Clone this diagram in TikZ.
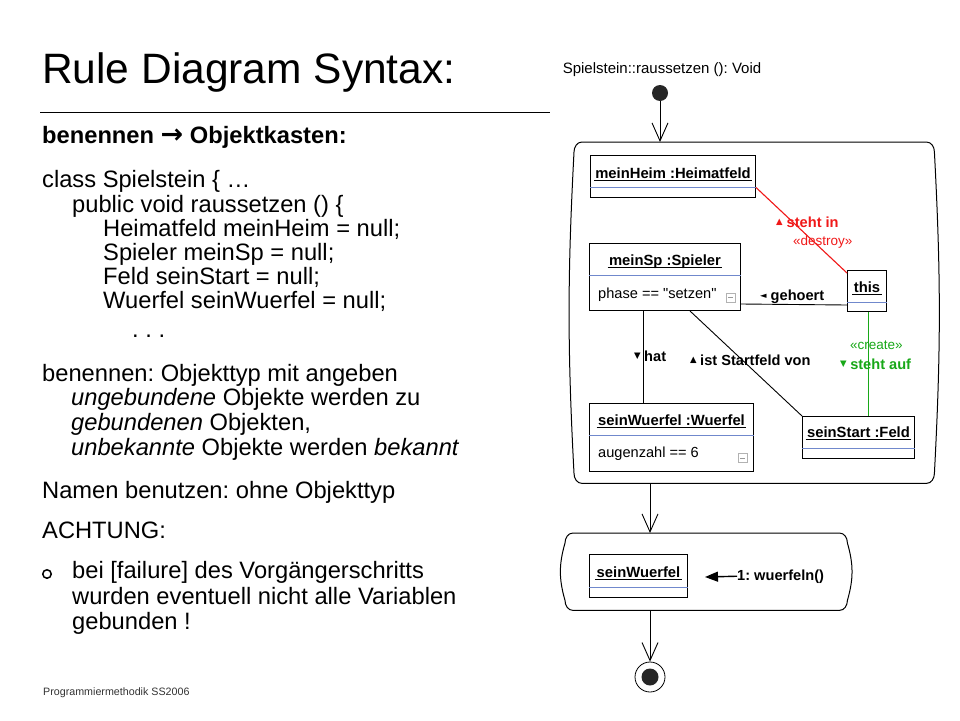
\documentclass[tikz,border=0pt]{standalone}
\usepackage{fontspec}
\setmainfont{Liberation Sans}
\newfontfamily\dgfont{Liberation Sans}[Ligatures=TeXOff]
\newfontfamily\symfont{DejaVu Sans}
\usetikzlibrary{arrows.meta,calc}
\definecolor{SepBlue}{HTML}{7088CC}
\definecolor{LinkRed}{HTML}{F01818}
\definecolor{LinkGreen}{HTML}{18A818}
\frenchspacing

% underlined object name
\newcommand{\uname}[1]{\sbox0{#1}\leavevmode\rlap{\hspace{-1.5pt}\rule[-3.2pt]{\dimexpr\wd0+3pt\relax}{1.3pt}}\usebox0}
% reading direction marks
\newcommand{\uptri}{\raisebox{2.5pt}{\symfont\fontsize{8.5}{8.5}\selectfont ▲}}
\newcommand{\downtri}{\raisebox{2.5pt}{\symfont\fontsize{8.5}{8.5}\selectfont ▼}}
\newcommand{\lefttri}{\raisebox{2pt}{\symfont\fontsize{8.5}{8.5}\selectfont ◄}}
% activity outline round a node
\newcommand{\actpath}[2]{\draw[actline] ([xshift=8pt]#1.north west) -- ([xshift=-8pt]#1.north east)
  to[out=0,in=90] ([yshift=-10pt]#1.north east) to[bend left=#2] ([yshift=10pt]#1.south east)
  to[out=-90,in=0] ([xshift=-8pt]#1.south east) -- ([xshift=8pt]#1.south west)
  to[out=180,in=-90] ([yshift=10pt]#1.south west) to[bend left=#2] ([yshift=-10pt]#1.north west)
  to[out=90,in=180] ([xshift=8pt]#1.north west) -- cycle;}

\begin{document}
\begin{tikzpicture}[x=1pt, y=-1pt,
  body/.style={anchor=base west, inner sep=0pt, font=\fontsize{23.7}{24}\selectfont},
  objbox/.style={draw, line width=1pt, anchor=north west, inner sep=0pt},
  objlabel/.style={anchor=base, inner sep=0pt, font=\dgfont\fontsize{14.8}{15}\selectfont\bfseries},
  attr/.style={anchor=base west, inner sep=0pt, font=\dgfont\fontsize{14.6}{15}\selectfont},
  sepline/.style={draw=SepBlue, line width=1pt},
  minusbox/.style={draw=gray!60, line width=0.7pt, minimum size=9pt, inner sep=0pt,
    path picture={\draw[gray!80, line width=0.8pt] ([xshift=2pt]path picture bounding box.west) -- ([xshift=-2pt]path picture bounding box.east);}},
  link/.style={line width=0.9pt},
  lbl/.style={anchor=base west, inner sep=0pt, font=\dgfont\fontsize{14.6}{15}\selectfont\bfseries},
  stereo/.style={anchor=base west, inner sep=0pt, font=\dgfont\fontsize{13.5}{14}\selectfont},
  flow/.style={-{Straight Barb[length=18pt,width=16pt]}, line width=0.9pt},
  msgarrow/.style={-{Triangle[length=13pt,width=10pt]}, line width=1.4pt},
  actnode/.style={draw=none, anchor=north west, inner sep=0pt},
  actline/.style={line width=1pt}
]
\useasboundingbox (0,0) rectangle (960,720);
\fill[white] (0,0) rectangle (960,720);

% left column
\node[anchor=base west, inner sep=0pt, font=\fontsize{42.5}{44}\selectfont] (title) at (42,83) {Rule Diagram Syntax:};
\draw[line width=1pt] (40,112) -- (550,112);

\node[body, font=\fontsize{23.7}{24}\selectfont\bfseries] (head) at (42,143) {benennen {\symfont\bfseries\fontsize{27}{27}\selectfont →} Objektkasten:};
\node[body] (code1) at (42,187) {class Spielstein \{ …};
\node[body] (code2) at (72,212) {public void raussetzen () \{};
\node[body] (code3) at (103,236) {Heimatfeld meinHeim = null;};
\node[body] (code4) at (103,260) {Spieler meinSp = null;};
\node[body] (code5) at (103,284) {Feld seinStart = null;};
\node[body] (code6) at (103,308) {Wuerfel seinWuerfel = null;};
\node[body] (code7) at (132,337) {.\ .\ .};

\node[body] (name1) at (42,381) {benennen: Objekttyp mit angeben};
\node[body] (name2) at (71,405) {\textit{ungebundene} Objekte werden zu};
\node[body] (name3) at (71,430) {\textit{gebundenen} Objekten,};
\node[body] (name4) at (71,455) {\textit{unbekannte} Objekte werden \textit{bekannt}};
\node[body] (use) at (42,498) {Namen benutzen: ohne Objekttyp};
\node[body] (warn) at (42,538) {ACHTUNG:};
\node[circle, draw, line width=1.5pt, minimum size=8.5pt, inner sep=0pt] (bullet) at (47,574) {};
\node[body] (fail1) at (72,578) {bei [failure] des Vorgängerschritts};
\node[body] (fail2) at (72,604) {wurden eventuell nicht alle Variablen};
\node[body] (fail3) at (72,629) {gebunden !};

\node[anchor=base west, inner sep=0pt, font=\fontsize{10.7}{11}\selectfont, text=black!80] (foot) at (43,695) {Programmiermethodik SS2006};

% rule diagram
\node[anchor=base, inner sep=0pt, font=\dgfont\fontsize{15}{15}\selectfont] (optitle) at (662,73) {Spielstein::raussetzen (): Void};
\node[circle, fill=black!85, minimum size=16pt, inner sep=0pt] (start) at (660,93) {};

\node[actnode, minimum width=360pt, minimum height=341pt] (rule) at (574,142) {};
\actpath{rule}{3}

\node[objbox, minimum width=165pt, minimum height=42pt] (heim) at (590,155) {};
\node[objlabel] (heimname) at ($(heim.north)+(0,23)$) {\uname{meinHeim :Heimatfeld}};
\draw[sepline] ([yshift=-32pt]heim.north west) -- ([yshift=-32pt]heim.north east);

\node[objbox, minimum width=151pt, minimum height=67pt] (sp) at (589,243) {};
\node[objlabel] (spname) at ($(sp.north)+(0,22)$) {\uname{meinSp :Spieler}};
\draw[sepline] ([yshift=-32pt]sp.north west) -- ([yshift=-32pt]sp.north east);
\node[attr] (spattr) at (598,298) {phase == "setzen"};
\node[minusbox] (spminus) at (730.5,297.5) {};

\node[objbox, minimum width=39pt, minimum height=41pt] (this) at (847,270) {};
\node[objlabel] (thisname) at ($(this.north)+(0,22)$) {\uname{this}};
\draw[sepline] ([yshift=-32pt]this.north west) -- ([yshift=-32pt]this.north east);

\node[objbox, minimum width=164pt, minimum height=68pt] (wue) at (589,403) {};
\node[objlabel] (wuename) at ($(wue.north)+(0,22)$) {\uname{seinWuerfel :Wuerfel}};
\draw[sepline] ([yshift=-32pt]wue.north west) -- ([yshift=-32pt]wue.north east);
\node[attr] (wueattr) at (598,457) {augenzahl == 6};
\node[minusbox] (wueminus) at (742.5,458) {};

\node[objbox, minimum width=112pt, minimum height=42pt] (feld) at (802,416) {};
\node[objlabel] (feldname) at ($(feld.north)+(0,21)$) {\uname{seinStart :Feld}};
\draw[sepline] ([yshift=-32pt]feld.north west) -- ([yshift=-32pt]feld.north east);

% links
\draw[link, draw=LinkRed, line width=1.1pt] ([yshift=-11pt]heim.east) -- ([yshift=-3pt]this.north west);
\draw[link] ([yshift=7pt]sp.south east) -- ([yshift=7pt]this.south west);
\draw[link] ([xshift=54pt]sp.south west) -- ([xshift=54pt]sp.south west |- wue.north);
\draw[link] ([xshift=101pt]sp.south west) -- (feld.north west);
\draw[link, draw=LinkGreen, line width=1.3pt] ([xshift=1.5pt]this.south) -- ([xshift=1.5pt]this.south |- feld.north);

\node[lbl, text=LinkRed] (stehtin) at (776,227) {\uptri\hspace{4pt}steht in};
\node[stereo, text=LinkRed] (destroy) at (793,245) {«destroy»};
\node[lbl] (gehoert) at (760,300) {\lefttri\hspace{4pt}gehoert};
\node[lbl] (hat) at (634,361) {\downtri\hspace{3.5pt}hat};
\node[lbl] (startfeld) at (690,365) {\uptri\hspace{3.5pt}ist Startfeld von};
\node[stereo, text=LinkGreen] (create) at (850,349) {«create»};
\node[lbl, text=LinkGreen] (stehtauf) at (840,369) {\downtri\hspace{3.5pt}steht auf};

% call step
\node[actnode, minimum width=282pt, minimum height=77pt] (call) at (565,533) {};
\actpath{call}{16}
\node[objbox, minimum width=98pt, minimum height=43pt] (sw) at (589,554) {};
\node[objlabel] (swname) at ($(sw.north)+(0,23)$) {\uname{seinWuerfel}};
\draw[sepline] ([yshift=-33pt]sw.north west) -- ([yshift=-33pt]sw.north east);
\node[lbl] (msg) at (737,580) {1: wuerfeln()};
\coordinate (msgtip) at (705,577);
\draw[msgarrow] (msg.west) -- (msgtip);

\node[circle, draw, line width=0.8pt, minimum size=30pt, inner sep=0pt] (stop) at (650,677) {};
\node[circle, fill=black!85, minimum size=17pt, inner sep=0pt] (stopdot) at (stop) {};

% control flow
\coordinate (fx) at (650,0);
\draw[flow] (start) -- (start |- rule.north);
\draw[flow] (rule.south -| fx) -- (call.north -| fx);
\draw[flow] (call.south -| fx) -- (stop.north);
\end{tikzpicture}
\end{document}
